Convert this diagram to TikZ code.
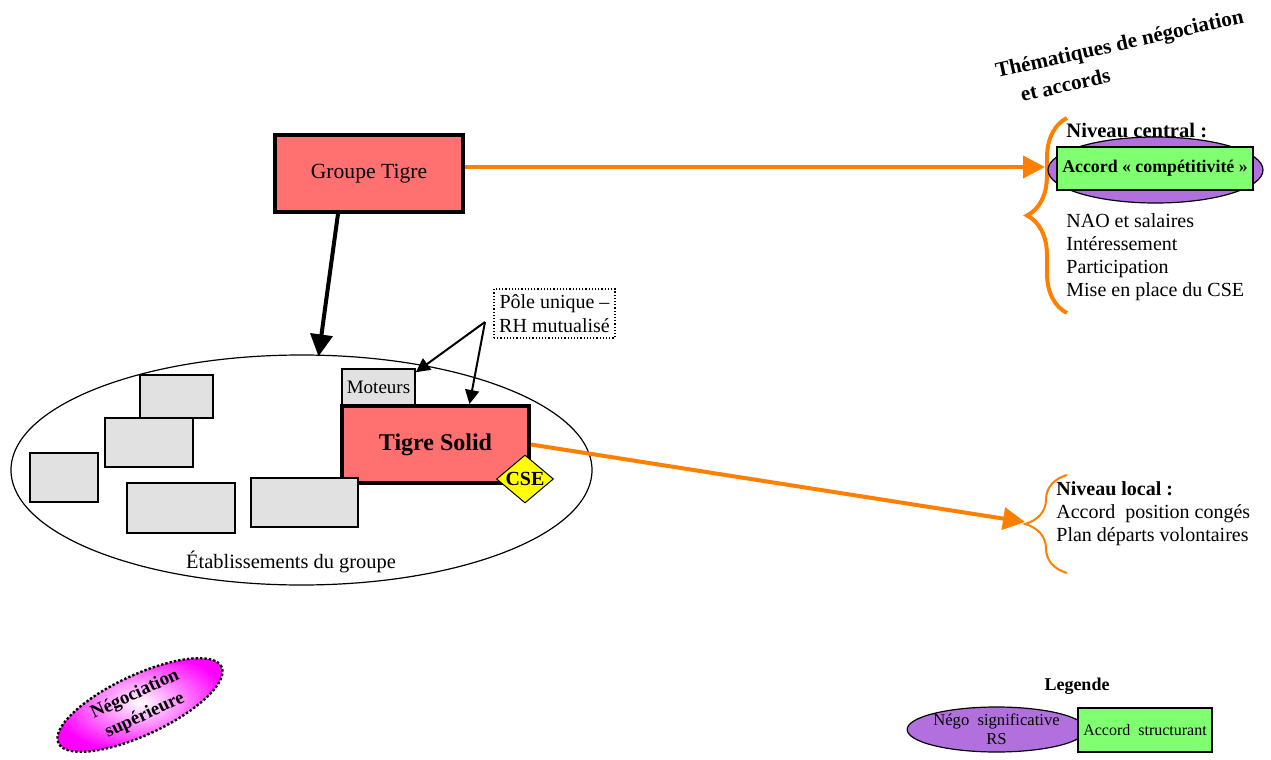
\documentclass[tikz,border=0pt]{standalone}
\usepackage{fontspec}
\setmainfont{Liberation Serif}
\usetikzlibrary{arrows.meta,calc,shapes.geometric,decorations.pathreplacing}
\definecolor{saumon}{RGB}{255,112,112}
\definecolor{gris}{RGB}{225,225,225}
\definecolor{mauve}{RGB}{178,112,222}
\definecolor{vertaccord}{RGB}{128,255,112}
\definecolor{orangefleche}{RGB}{255,128,0}
\definecolor{jaunecse}{RGB}{255,255,0}
\definecolor{rosenego}{RGB}{255,0,255}
\tikzset{
	boite/.style={draw, line width=1.8pt, fill=saumon, inner sep=0pt},
	etab/.style={draw, line width=0.8pt, fill=gris, inner sep=0pt},
	fleche/.style={line width=2pt, color=orangefleche, -{Triangle[length=11pt,width=11pt]}},
	accolade/.style={color=orangefleche, decorate},
	texte/.style={inner sep=0pt, align=left, font=\fontsize{10}{11.6}\selectfont},
}

\begin{document}
\begin{tikzpicture}[x=0.5pt, y=-0.5pt]
			%%%%% START %%%%%
			
			\useasboundingbox (0,0) rectangle (1271,760);
			
			\node[draw, ellipse, line width=0.6pt, minimum width=290.5pt, minimum height=115pt, inner sep=0pt] (groupeetab) at (301.5,470) {};
			\node[inner sep=0pt, font=\fontsize{10.2}{12}\selectfont] (etabtexte) at (291,562) {Établissements du groupe};
			
			\node[boite, minimum width=94pt, minimum height=38.5pt, font=\fontsize{10.8}{13}\selectfont] (groupe) at (369,173.5) {Groupe Tigre};
			
			\node[etab, minimum width=36.5pt, minimum height=21.5pt] (e1) at (176.5,396.5) {};
			\node[etab, minimum width=44pt, minimum height=24.5pt] (e2) at (149,442.5) {};
			\node[etab, minimum width=34pt, minimum height=24.5pt] (e3) at (64,477.5) {};
			\node[etab, minimum width=54pt, minimum height=25pt] (e4) at (181,508) {};
			
			\node[etab, minimum width=36.5pt, minimum height=18pt, font=\fontsize{9.5}{11}\selectfont] (moteurs) at (378.5,387) {Moteurs};
			\node[boite, line width=2pt, minimum width=93.5pt, minimum height=38.5pt, font=\bfseries\fontsize{12}{14}\selectfont] (solid) at (435.5,444.5) {Tigre Solid};
			\node[etab, minimum width=53.5pt, minimum height=24.5pt] (e5) at (304.5,502.5) {};
			\node[draw, diamond, line width=0.5pt, fill=jaunecse, minimum width=28.5pt, minimum height=24pt, inner sep=0pt,
				label={[font=\bfseries\fontsize{10}{12}\selectfont]center:CSE}] (cse) at (525,479) {};
			
			\node[draw, densely dotted, line width=0.6pt, minimum width=60.5pt, minimum height=24.5pt, inner sep=0pt, align=center,
				font=\fontsize{10}{12}\selectfont] (pole) at (554.5,313.5) {Pôle unique --\\RH mutualisé};
			\coordinate (pivot) at (485,322);
			\draw[line width=1pt, -{Triangle[length=7pt,width=7pt]}] (pivot) -- ([yshift=-2pt]moteurs.north east);
			\draw[line width=1pt, -{Triangle[length=7pt,width=7pt]}] (pivot) -- ([xshift=17pt]solid.north);
			
			\draw[line width=2pt, -{Triangle[length=11pt,width=11pt]}] ([xshift=-15.5pt]groupe.south) -- ([xshift=8.5pt,yshift=-1pt]groupeetab.north);
			
			% thematiques
			\node[inner sep=0pt, anchor=base west, rotate=12.6, font=\bfseries\fontsize{10.6}{12}\selectfont] (titre1) at (997,78) {Thématiques de négociation};
			\node[inner sep=0pt, anchor=base west, rotate=12.6, font=\bfseries\fontsize{10.6}{12}\selectfont] (titre2) at (1022,102) {et accords};
			
			\draw[accolade, line width=2pt, decoration={brace, amplitude=20pt}] (1067,313) -- (1067,118);
			\coordinate (entreec) at (1045,167);
			\draw[fleche] (groupe.east |- entreec) -- (entreec);
			
			\node[texte, anchor=west, font=\bfseries\fontsize{10.3}{12}\selectfont] (central) at (1066,130) {Niveau central :};
			\node[draw, ellipse, line width=0.6pt, fill=mauve, minimum width=107.5pt, minimum height=33pt, inner sep=0pt] (negocentral) at (1155.5,170) {};
			\node[draw, line width=1.2pt, fill=vertaccord, minimum width=98pt, minimum height=21.5pt, inner sep=0pt,
				font=\bfseries\fontsize{8.9}{10}\selectfont] (compet) at (1155,168.5) {Accord « compétitivité »};
			\node[texte, anchor=north west] (listecentral) at (1066,213) {NAO et salaires\\Intéressement\\Participation\\Mise en place du CSE};
			
			\draw[accolade, line width=1pt, decoration={brace, amplitude=21pt}] (1067,573) -- (1067,475);
			\coordinate (pointel) at (1025,522);
			\draw[fleche] (solid.east) -- (pointel);
			\node[texte, anchor=north west] (local) at (1056,481) {\textbf{Niveau local :}\\Accord\ \ position congés\\Plan départs volontaires};
			
			% negociation superieure
			\node[draw, ellipse, densely dotted, line width=1.2pt, inner color=white, outer color=rosenego, minimum width=90pt, minimum height=30pt,
				inner sep=0pt, rotate=25, align=center, font=\bfseries\fontsize{9.4}{11.5}\selectfont] (superieure) at (140,705) {Négociation\\supérieure};
			
			% legende
			\node[inner sep=0pt, font=\bfseries\fontsize{9}{11}\selectfont] (legende) at (1077,686) {Legende};
			\node[draw, ellipse, line width=0.6pt, fill=mauve, minimum width=76.5pt, minimum height=22.5pt, inner sep=0pt, align=center,
				font=\fontsize{8.3}{9.5}\selectfont] (legnego) at (996.5,729.5) {Négo\ \ significative\\RS};
			\node[draw, line width=1.2pt, fill=vertaccord, minimum width=67pt, minimum height=22pt, inner sep=0pt,
				font=\fontsize{8}{9}\selectfont] (legaccord) at (1145,730) {Accord\ \ structurant};
			
			%%%%% END %%%%%
\end{tikzpicture}
\end{document}
